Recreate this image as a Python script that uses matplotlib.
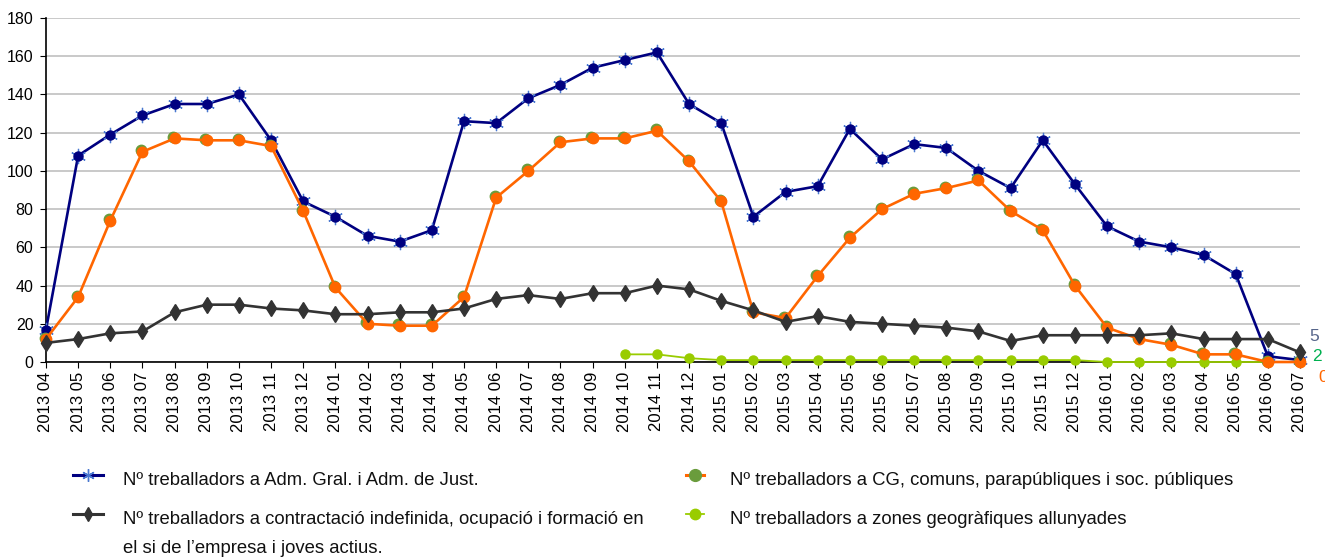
import matplotlib
matplotlib.use("Agg")
import matplotlib.pyplot as plt
from matplotlib.lines import Line2D
from matplotlib.legend_handler import HandlerLine2D
from matplotlib.transforms import ScaledTranslation

plt.rcParams['font.family'] = ['Liberation Sans', 'DejaVu Sans']

# months 2013 04 .. 2016 07
months = []
for yr in range(2013, 2017):
    for mo in range(1, 13):
        if (yr == 2013 and mo < 4) or (yr == 2016 and mo > 7):
            continue
        months.append("%d %02d" % (yr, mo))

adm_gral = [17, 108, 119, 129, 135, 135, 140, 116, 84,
            76, 66, 63, 69, 126, 125, 138, 145, 154, 158, 162, 135,
            125, 76, 89, 92, 122, 106, 114, 112, 100, 91, 116, 93,
            71, 63, 60, 56, 46, 3, 1]
cg_comuns = [12, 34, 74, 110, 117, 116, 116, 113, 79,
             39, 20, 19, 19, 34, 86, 100, 115, 117, 117, 121, 105,
             84, 26, 23, 45, 65, 80, 88, 91, 95, 79, 69, 40,
             18, 12, 9, 4, 4, 0, 0]
contractacio = [10, 12, 15, 16, 26, 30, 30, 28, 27,
                25, 25, 26, 26, 28, 33, 35, 33, 36, 36, 40, 38,
                32, 27, 21, 24, 21, 20, 19, 18, 16, 11, 14, 14,
                14, 14, 15, 12, 12, 12, 5]
# zones series starts at 2014 10
zones_start = 18
zones = [4, 4, 2,
         1, 1, 1, 1, 1, 1, 1, 1, 1, 1, 1, 1,
         0, 0, 0, 0, 0, 0, 0]

labels = ["Nº treballadors a Adm. Gral. i Adm. de Just.",
          "Nº treballadors a contractació indefinida, ocupació i formació en",
          "Nº treballadors a CG, comuns, parapúbliques i soc. públiques",
          "Nº treballadors a zones geogràfiques allunyades"]
label_cont = "el si de l\u2019empresa i joves actius."
end_labels = [("5", "#56658a"), ("2", "#00b050"), ("0", "#ff6600")]

navy = "#000080"
orange = "#ff6600"
dark = "#333333"
lime = "#99cc00"
olive = "#6a9c3c"


class EndMarker(HandlerLine2D):
    # excel style: marker sits at the right end of the legend line
    def get_xdata(self, legend, xdescent, ydescent, width, height, fontsize):
        xdata, _ = super().get_xdata(legend, xdescent, ydescent, width, height, fontsize)
        return xdata, [xdata[-1]]


fig = plt.figure(figsize=(13.25, 5.59), dpi=100)
ax = fig.add_axes([46 / 1325, 1 - 362 / 559, 1254 / 1325, 344 / 559])

x = list(range(len(months)))
xz = x[zones_start:]

ax.plot(xz, zones, color=lime, lw=1.3, marker='o', ms=6.5, mec=lime,
        clip_on=False, zorder=3)

ax.plot(x, adm_gral, color=navy, lw=1.9, marker=(6, 2, 0), ms=11,
        mec="#4a78d0", mew=0.9, clip_on=False, zorder=4)
ax.plot(x, adm_gral, color=navy, lw=0, marker='o', ms=6.5, mec=navy,
        clip_on=False, zorder=4)

shadow = ax.transData + ScaledTranslation(-1.3 / 100, 1.5 / 100, fig.dpi_scale_trans)
ax.plot(x, cg_comuns, lw=0, marker='o', ms=7.5, color=olive, mec=olive,
        transform=shadow, clip_on=False, zorder=5)
ax.plot(x, cg_comuns, color=orange, lw=1.9, marker='o', ms=7.5, mec=orange,
        clip_on=False, zorder=5)

ax.plot(x, contractacio, color=dark, lw=1.9, marker='d', ms=8, mec=dark,
        clip_on=False, zorder=6)

offsets = [(9, 16), (12, 2), (18, -15)]
for (txt, col), (dx, dy), val in zip(end_labels, offsets, [5, 2, 0]):
    ax.annotate(txt, xy=(x[-1], val), xytext=(dx, dy), textcoords='offset pixels',
                color=col, fontsize=12.5, ha='left', va='center', annotation_clip=False)

ax.set_xlim(0, len(months) - 1)
ax.set_ylim(0, 180)
ax.set_yticks(range(0, 181, 20))
ax.set_xticks(x)
ax.set_xticklabels(months, rotation=90, fontsize=12)
ax.tick_params(axis='y', labelsize=11.5, length=4, pad=5)
ax.tick_params(axis='x', length=4, pad=3)
ax.grid(axis='y', color='#c0c0c0', lw=1.2)
ax.set_axisbelow(True)
for s in ['top', 'right']:
    ax.spines[s].set_visible(False)
ax.spines['left'].set_linewidth(1.2)
ax.spines['bottom'].set_linewidth(1.2)

handles = [
    Line2D([], [], color=navy, lw=2.2, marker=(6, 2, 0), ms=9, mec="#4a78d0", mew=1),
    Line2D([], [], color=dark, lw=2.2, marker='d', ms=7),
    Line2D([], [], color=orange, lw=2.2, marker='o', ms=8.5, mfc=olive, mec=olive),
    Line2D([], [], color=lime, lw=1.3, marker='o', ms=7.5, mfc=lime, mec=lime),
]
fs = 13.3
leg_kw = dict(loc='upper left', frameon=False, fontsize=fs, handleheight=2.0,
              labelspacing=0.58, borderaxespad=0, borderpad=0)
leg1 = fig.legend(handles[:2], labels[:2], bbox_to_anchor=(73 / 1325, 1 - 465 / 559),
                  handlelength=1.6, handletextpad=1.1, **leg_kw)
leg2 = fig.legend(handles[2:], labels[2:], bbox_to_anchor=(686 / 1325, 1 - 465 / 559),
                  handlelength=0.95, handletextpad=1.45,
                  handler_map={Line2D: EndMarker()}, **leg_kw)
for t in leg1.get_texts() + leg2.get_texts():
    t.set_color("#111111")

# second line of the long label, under its first line
fig.canvas.draw()
bb = leg1.get_texts()[1].get_window_extent()
fig.text(bb.x0 / 1325, (bb.y0 - 29) / 559, label_cont, fontsize=fs,
         color="#111111", ha='left', va='bottom')

fig.savefig("out.png", dpi=100)
